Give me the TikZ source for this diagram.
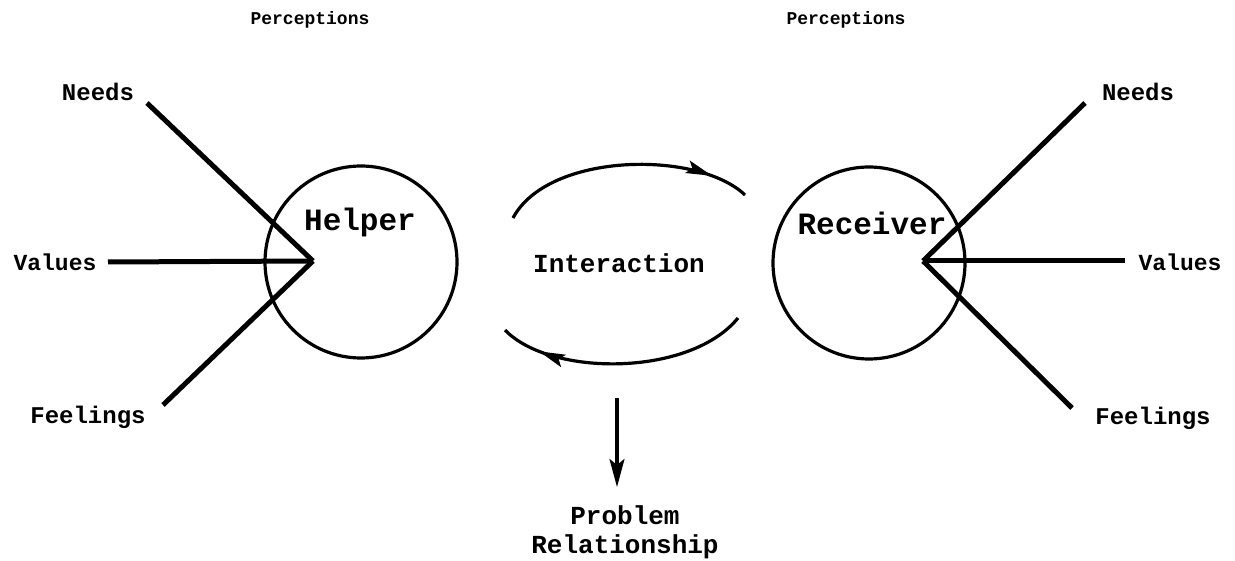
\documentclass[tikz,border=0pt]{standalone}
\usepackage{fontspec}
\setmonofont{Liberation Mono}
\usetikzlibrary{arrows.meta,decorations.markings}
\begin{document}
\begin{tikzpicture}[x=1pt,y=1pt,
  lab/.style={font=\fontsize{#1}{#1}\selectfont\ttfamily\bfseries, inner sep=0pt},
  ray/.style={line width=5pt},
  ring/.style={circle, draw, line width=3.2pt, minimum size=192pt, inner sep=0pt},
  flow/.style={line width=3.2pt},
  midarrow/.style={postaction={decorate}, decoration={markings,
    mark=at position #1 with {\arrow{Stealth[length=26pt,width=13pt,inset=5pt]}}}}]
\useasboundingbox (0,0) rectangle (1235,-561);
% left side
\node[ring] (hc) at (361,-262) {};
\node[lab=31] (helper) at (360,-222) {Helper};
\node[lab=18] (percL) at (310,-20) {Perceptions};
\node[lab=24] (needsL) at (98,-92) {Needs};
\node[lab=23] (valuesL) at (55,-262) {Values};
\node[lab=24] (feelL) at (88,-417) {Feelings};
\coordinate (hv) at (313,-261);
\coordinate (hn) at (147,-103);
\coordinate (hva) at (108,-262);
\coordinate (hf) at (163,-405);
\draw[ray] (hn) -- (hv);
\draw[ray] (hva) -- (hv);
\draw[ray] (hf) -- (hv);
% right side
\node[ring] (rc) at (869,-263) {};
\node[lab=31] (receiver) at (872,-223) {Receiver};
\node[lab=18] (percR) at (846,-20) {Perceptions};
\node[lab=24] (needsR) at (1138,-92) {Needs};
\node[lab=23] (valuesR) at (1180,-262) {Values};
\node[lab=24] (feelR) at (1153,-418) {Feelings};
\coordinate (rv) at (923,-261);
\coordinate (rn) at (1085,-103);
\coordinate (rva) at (1125,-261);
\coordinate (rf) at (1072,-408);
\draw[ray] (rn) -- (rv);
\draw[ray] (rva) -- (rv);
\draw[ray] (rf) -- (rv);
% interaction
\node[lab=26] (inter) at (619,-263) {Interaction};
\coordinate (t1) at (513,-218);
\coordinate (t2) at (745,-195);
\coordinate (b1) at (738,-318);
\coordinate (b2) at (505,-330);
\draw[flow, midarrow=0.85] (t1) .. controls (548,-152) and (698,-150) .. (t2);
\draw[flow, midarrow=0.84] (b1) .. controls (690,-377) and (550,-377) .. (b2);
% problem relationship
\node[lab=26, align=center] (prob) at (625,-532) {Problem\\[3pt]Relationship};
\coordinate (a1) at (617,-398);
\coordinate (a2) at (617,-487);
\draw[flow, -{Stealth[length=28pt,width=15pt,inset=6pt]}] (a1) -- (a2);
\end{tikzpicture}
\end{document}
